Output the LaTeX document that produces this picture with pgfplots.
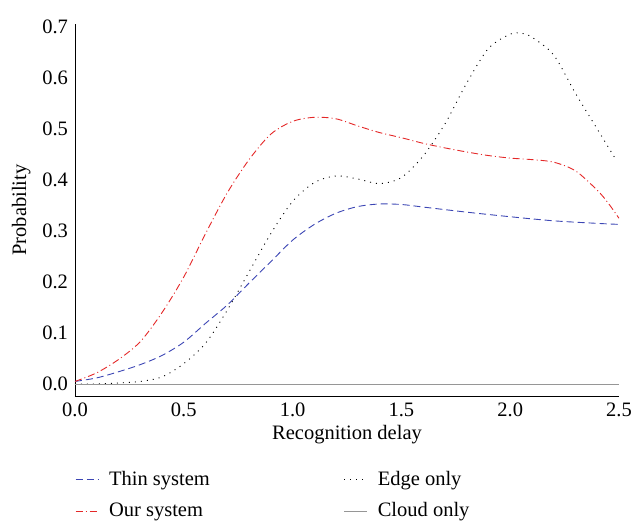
\documentclass[border=0pt]{standalone}
\usepackage{pgfplots}
\pgfplotsset{compat=1.18}
\usepackage{fontspec}
\setmainfont{Liberation Serif}
\definecolor{thinblue}{RGB}{60,70,180}
\definecolor{ourred}{RGB}{228,40,40}
\definecolor{cloudgray}{RGB}{150,150,150}
\begin{document}
\fontsize{20.5}{24}\selectfont
\begin{tikzpicture}
\useasboundingbox (-75pt,-141pt) rectangle (558pt,384pt);
\begin{axis}[
at={(0pt,0pt)},
anchor=origin,
width=544pt,
height=372pt,
scale only axis,
xmin=0, xmax=2.5,
ymin=-0.0235, ymax=0.706,
axis lines=left,
axis line style={-, line width=0.9pt},
major tick length=0pt,
xtick={0,0.5,...,2.5},
ytick={0,0.1,...,0.7},
xticklabel style={/pgf/number format/fixed,/pgf/number format/fixed zerofill,/pgf/number format/precision=1},
yticklabel style={/pgf/number format/fixed,/pgf/number format/fixed zerofill,/pgf/number format/precision=1},
/pgf/number format/assume math mode=true,
tick label style={font=\fontsize{20.5}{24}\selectfont},
label style={font=\fontsize{20.5}{24}\selectfont},
xlabel={Recognition delay},
ylabel={Probability},
xlabel style={yshift=6pt},
ylabel style={yshift=-2pt},
legend columns=2,
legend cell align=left,
legend style={at={(0pt,-73pt)}, anchor=north west, draw=none, fill=none, inner sep=0pt,
  font=\fontsize{20.5}{24}\selectfont, row sep=10pt,
  /tikz/every odd column/.append style={column sep=8pt},
  /tikz/every even column/.append style={column sep=132pt}},
legend image code/.code={\draw[#1] (0pt,0pt) -- (23pt,0pt);},
]
\addplot[thinblue, line width=0.9pt, dash pattern=on 7pt off 4pt, smooth] coordinates {
(0,0.005) (0.1,0.012) (0.2,0.024) (0.3,0.038) (0.4,0.056) (0.5,0.082) (0.6,0.119)
(0.7,0.155) (0.8,0.198) (0.9,0.240) (1.0,0.282) (1.1,0.313) (1.2,0.335) (1.3,0.348)
(1.4,0.353) (1.5,0.352) (1.6,0.347) (1.8,0.337) (2.0,0.328) (2.2,0.320) (2.4,0.315) (2.5,0.313)
};
\addlegendentry{Thin system}
\addplot[black, line width=0.9pt, dash pattern=on 1pt off 5pt, smooth] coordinates {
(0,0) (0.1,0.0) (0.2,0.002) (0.3,0.005) (0.4,0.014) (0.5,0.040) (0.6,0.080) (0.7,0.145)
(0.8,0.220) (0.9,0.295) (1.0,0.358) (1.1,0.395) (1.2,0.408) (1.3,0.402) (1.4,0.393)
(1.5,0.405) (1.6,0.447) (1.7,0.510) (1.8,0.590) (1.9,0.658) (2.0,0.686) (2.05,0.688)
(2.1,0.680) (2.2,0.645) (2.3,0.570) (2.4,0.500) (2.49,0.437)
};
\addlegendentry{Edge only}
\addplot[ourred, line width=0.9pt, dash pattern=on 7pt off 3pt on 1pt off 3pt, smooth] coordinates {
(0,0.005) (0.1,0.022) (0.2,0.048) (0.3,0.083) (0.4,0.140) (0.5,0.210) (0.6,0.295)
(0.7,0.375) (0.8,0.440) (0.9,0.490) (1.0,0.515) (1.1,0.523) (1.2,0.520) (1.3,0.506)
(1.4,0.493) (1.5,0.483) (1.6,0.472) (1.7,0.463) (1.8,0.455) (1.9,0.448) (2.0,0.443)
(2.1,0.440) (2.2,0.435) (2.3,0.418) (2.4,0.380) (2.45,0.355) (2.5,0.325)
};
\addlegendentry{Our system}
\addplot[cloudgray, line width=0.9pt] coordinates {(0,0) (2.5,0)};
\addlegendentry{Cloud only}
\end{axis}
\end{tikzpicture}
\end{document}
